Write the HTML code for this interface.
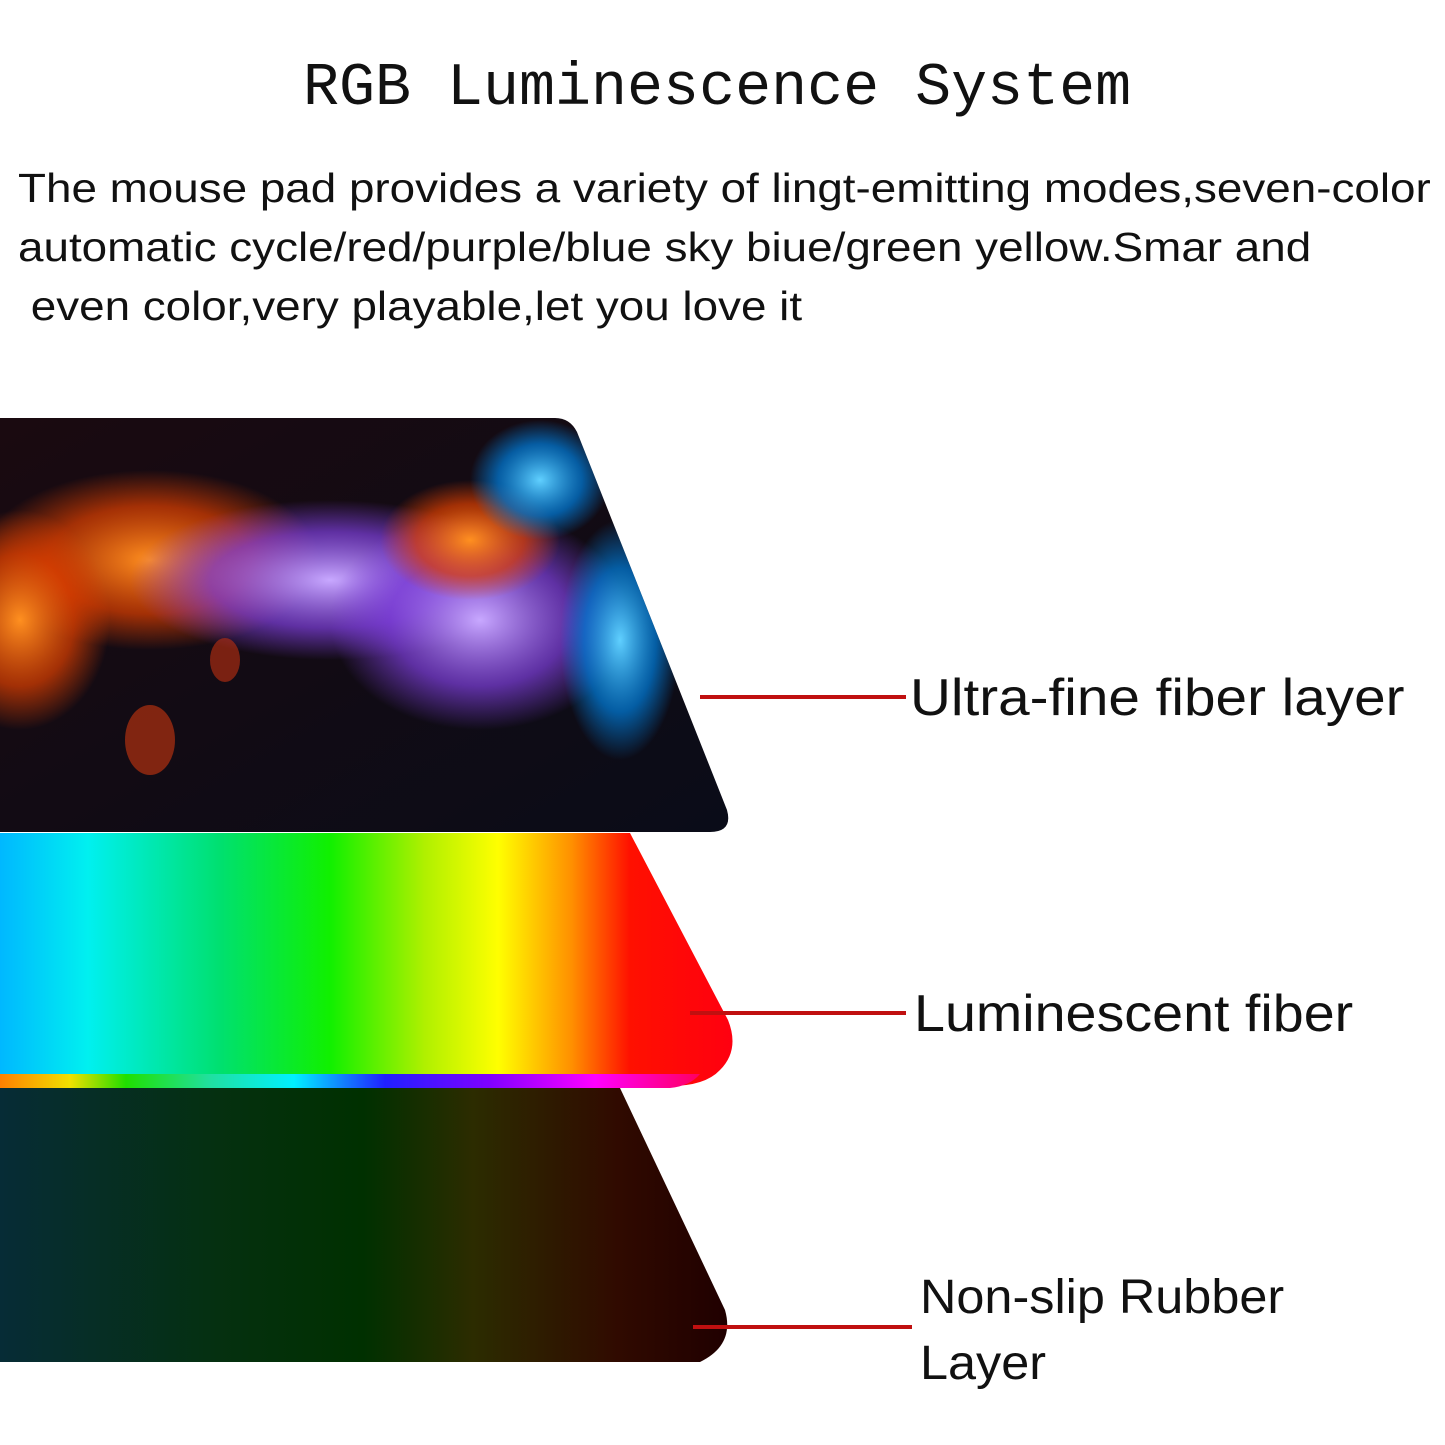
<!DOCTYPE html>
<html><head><meta charset="utf-8"><style>
html,body{margin:0;padding:0;background:#fff;}
body{width:1445px;height:1445px;position:relative;overflow:hidden;font-family:"Liberation Sans",sans-serif;}
.t{position:absolute;white-space:nowrap;color:#111;transform-origin:0 0;}
</style></head><body>
<svg width="1445" height="1445" style="position:absolute;left:0;top:0">
<defs>
<linearGradient id="mid" x1="0" x2="1" y1="0" y2="0">
<stop offset="0" stop-color="#00b8ff"/><stop offset="0.12" stop-color="#00f0f0"/><stop offset="0.3" stop-color="#00e070"/><stop offset="0.45" stop-color="#10f000"/><stop offset="0.58" stop-color="#b0f000"/><stop offset="0.68" stop-color="#ffff00"/><stop offset="0.78" stop-color="#ff9000"/><stop offset="0.86" stop-color="#ff1000"/><stop offset="1" stop-color="#ff0010"/>
</linearGradient>
<linearGradient id="strip" x1="0" x2="1" y1="0" y2="0">
<stop offset="0" stop-color="#ff8000"/><stop offset="0.1" stop-color="#f0e000"/><stop offset="0.18" stop-color="#20e000"/><stop offset="0.3" stop-color="#20e0a0"/><stop offset="0.42" stop-color="#00f0ff"/><stop offset="0.55" stop-color="#2020ff"/><stop offset="0.7" stop-color="#8000ff"/><stop offset="0.85" stop-color="#ff00ff"/><stop offset="1" stop-color="#ff0060"/>
</linearGradient>
<linearGradient id="bot" x1="0" x2="1" y1="0" y2="0">
<stop offset="0" stop-color="#062c36"/><stop offset="0.3" stop-color="#053010"/><stop offset="0.5" stop-color="#003000"/><stop offset="0.65" stop-color="#2c2c00"/><stop offset="0.85" stop-color="#300a00"/><stop offset="1" stop-color="#200000"/>
</linearGradient>
<linearGradient id="top" x1="0" x2="1" y1="0" y2="1">
<stop offset="0" stop-color="#1a0a10"/><stop offset="1" stop-color="#0a0c18"/>
</linearGradient>
<radialGradient id="pur" cx="0.5" cy="0.5" r="0.5"><stop offset="0" stop-color="#c8a8ff"/><stop offset="0.6" stop-color="#8040e0" stop-opacity="0.7"/><stop offset="1" stop-color="#8040e0" stop-opacity="0"/></radialGradient>
<radialGradient id="org" cx="0.5" cy="0.5" r="0.5"><stop offset="0" stop-color="#ff9020"/><stop offset="0.6" stop-color="#e04000" stop-opacity="0.7"/><stop offset="1" stop-color="#e04000" stop-opacity="0"/></radialGradient>
<radialGradient id="blu" cx="0.5" cy="0.5" r="0.5"><stop offset="0" stop-color="#60d0ff"/><stop offset="0.6" stop-color="#0080e0" stop-opacity="0.7"/><stop offset="1" stop-color="#0080e0" stop-opacity="0"/></radialGradient>
<clipPath id="cTop"><path d="M0 418 L555 418 Q570 418 577 432 L727 810 Q733 832 710 832 L0 832 Z"/></clipPath>
</defs>
<path d="M0 1088 L620 1088 L725 1310 Q735 1345 700 1362 L0 1362 Z" fill="url(#bot)"/>
<path d="M0 833 L630 833 L728 1020 Q740 1050 720 1070 Q705 1086 670 1086 L0 1086 Z" fill="url(#mid)"/>
<path d="M0 1074 L700 1074 Q690 1086 670 1088 L0 1088 Z" fill="url(#strip)"/>
<path d="M0 418 L555 418 Q570 418 577 432 L727 810 Q733 832 710 832 L0 832 Z" fill="url(#top)"/>
<g clip-path="url(#cTop)">
<ellipse cx="150" cy="560" rx="170" ry="90" fill="url(#org)"/>
<ellipse cx="20" cy="620" rx="90" ry="110" fill="url(#org)"/>
<ellipse cx="330" cy="580" rx="200" ry="80" fill="url(#pur)"/>
<ellipse cx="480" cy="620" rx="150" ry="110" fill="url(#pur)"/>
<ellipse cx="470" cy="540" rx="90" ry="60" fill="url(#org)"/>
<ellipse cx="540" cy="480" rx="70" ry="60" fill="url(#blu)"/>
<ellipse cx="620" cy="640" rx="60" ry="120" fill="url(#blu)"/>
<ellipse cx="150" cy="740" rx="25" ry="35" fill="#b03010" opacity="0.7"/>
<ellipse cx="225" cy="660" rx="15" ry="22" fill="#c03010" opacity="0.6"/>
</g>
<line x1="700" y1="697" x2="906" y2="697" stroke="#c01010" stroke-width="4"/>
<line x1="690" y1="1013" x2="906" y2="1013" stroke="#c01010" stroke-width="4"/>
<line x1="693" y1="1327" x2="912" y2="1327" stroke="#c01010" stroke-width="4"/>
</svg>
<div class="t" style="left:303px;top:55px;font-family:'Liberation Mono',monospace;font-size:60px;">RGB Luminescence System</div>
<div class="t" style="left:18px;top:159px;font-size:41px;line-height:59px;transform:scaleX(1.117);">The mouse pad provides a variety of lingt-emitting modes,seven-color<br>automatic cycle/red/purple/blue sky biue/green yellow.Smar and<br>&nbsp;even color,very playable,let you love it</div>
<div class="t" style="left:910px;top:668px;font-size:52px;transform:scaleX(1.09);">Ultra-fine fiber layer</div>
<div class="t" style="left:914px;top:984px;font-size:52px;transform:scaleX(1.07);">Luminescent fiber</div>
<div class="t" style="left:920px;top:1265px;font-size:48px;line-height:66px;transform:scaleX(1.05);">Non-slip Rubber<br>Layer</div>
</body></html>
